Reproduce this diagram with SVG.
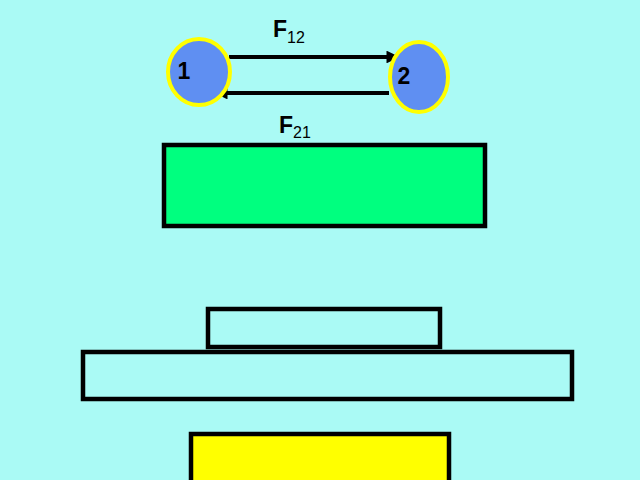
<svg xmlns="http://www.w3.org/2000/svg" width="640" height="480" viewBox="0 0 640 480">
<style>
.bg{fill:#AAFAF5}
.ball{fill:#5F8FF2;stroke:#FFFF00;stroke-width:4}
.box{stroke:#000;stroke-width:4.5}
.lbl{font-family:"Liberation Sans",Arial,sans-serif;fill:#000}
.big{font-weight:bold;font-size:23px}
.sub{font-size:16px}
.conn{stroke:#000;stroke-width:4;fill:none}
</style>
<defs>
<marker id="ah" viewBox="0 0 10 10" refX="9" refY="5" markerWidth="3.2" markerHeight="3.2" orient="auto" markerUnits="strokeWidth">
<path d="M0,0 L10,5 L0,10 Z" fill="#000"/>
</marker>
</defs>
<rect class="bg" x="0" y="0" width="640" height="480"/>
<g id="connectors">
<line class="conn" x1="229" y1="57" x2="398" y2="57" marker-end="url(#ah)"/>
<line class="conn" x1="389" y1="93" x2="216" y2="93" marker-end="url(#ah)"/>
</g>
<g id="node1">
<ellipse class="ball" cx="199" cy="72" rx="31" ry="33"/>
<text class="lbl big" x="184" y="79" text-anchor="middle">1</text>
</g>
<g id="node2">
<ellipse class="ball" cx="419" cy="77" rx="29" ry="35"/>
<text class="lbl big" x="404" y="84" text-anchor="middle">2</text>
</g>
<g id="labelF12">
<text class="lbl" x="273" y="37"><tspan class="big">F</tspan><tspan class="sub" dy="6">12</tspan></text>
</g>
<g id="labelF21">
<text class="lbl" x="279" y="133"><tspan class="big">F</tspan><tspan class="sub" dy="5">21</tspan></text>
</g>
<g id="greenBox">
<rect class="box" x="164" y="145" width="321" height="81" fill="#00FF7F"/>
</g>
<g id="smallBox">
<rect class="box" x="208" y="309" width="232" height="38" fill="#AAFAF5"/>
</g>
<g id="wideBox">
<rect class="box" x="83" y="352" width="489" height="47" fill="#AAFAF5"/>
</g>
<g id="yellowBox">
<rect class="box" x="191" y="434" width="258" height="50" fill="#FFFF00"/>
</g>
</svg>
